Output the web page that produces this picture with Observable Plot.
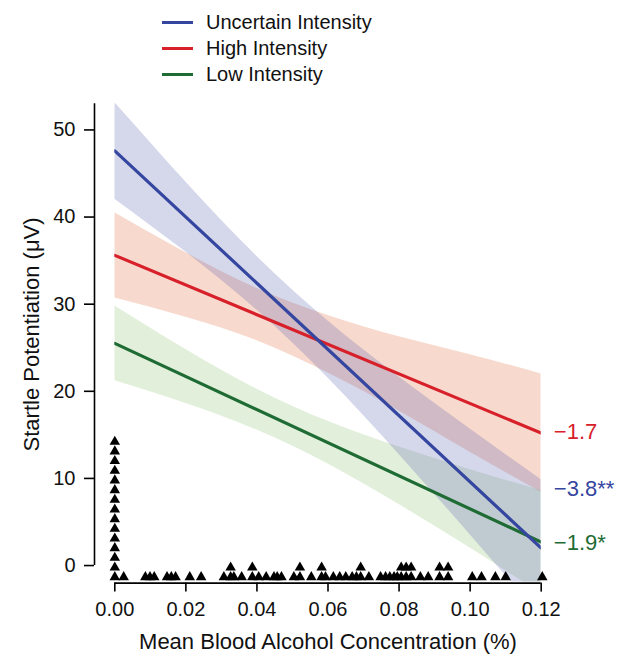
<!DOCTYPE html>
<html>
<head>
<meta charset="utf-8">
<script src="https://cdn.jsdelivr.net/npm/d3@7"></script>
<script src="https://cdn.jsdelivr.net/npm/@observablehq/plot@0.6"></script>
<style>
  body { margin: 0; background: #fff; font-family: "Liberation Sans", Arial, sans-serif; }
  #wrap { position: relative; width: 620px; height: 657px; background: #fff; }
  #legend { position: absolute; left: 162px; top: 9px; }
  .item { display: flex; align-items: center; height: 26px; font-size: 20px; color: #111; }
  .sw { width: 31px; height: 3px; margin-right: 13px; }
</style>
</head>
<body>
<div id="wrap"><div id="legend"></div></div>
<script>
// ---- data ----
const conditions = ["Uncertain Intensity", "High Intensity", "Low Intensity"];
const lineColors = ["#3446a0", "#d7202a", "#1e6b34"];
const bandColors = ["#575fb0", "#df6737", "#8bbf6f"];
const bandOpacity = 0.25;

// fitted regression lines (endpoints at BAC 0 and 0.12)
const lineX = [0, 0.12];
const uncertainLine = [47.6, 2.0];
const highLine = [35.6, 15.2];
const lowLine = [25.5, 2.7];

// confidence bands
const bandX = [0, 0.02, 0.04, 0.06, 0.08, 0.10, 0.12];
const uncertainLo = [42.05, 35.98, 29.32, 21.53, 12.76, 3.54, -5.85];
const uncertainHi = [53.15, 44.02, 35.48, 28.07, 21.64, 15.66, 9.85];
const highLo = [30.7, 28.5, 25.8, 22.1, 17.75, 13.0, 8.4];
const highHi = [40.5, 35.9, 31.8, 28.7, 26.25, 24.2, 22.0];
const lowLo = [21.2, 18.6, 15.55, 11.65, 7.0, 2.0, -3.2];
const lowHi = [29.8, 24.8, 20.25, 16.55, 13.6, 11.0, 8.6];

// slope annotations at right
const slopeLabels = ["\u22123.8**", "\u22121.7", "\u22121.9*"];
const slopeLabelY = [8.8, 15.3, 2.6];

// participants' mean BAC (rug of triangles)
const bac = [
  0, 0, 0, 0, 0, 0, 0, 0, 0, 0, 0, 0, 0, 0, 0,
  0.0025,
  0.0086, 0.0099, 0.0111,
  0.0147, 0.0159, 0.0171,
  0.0211,
  0.0243,
  0.0307, 0.0326, 0.0326, 0.0335, 0.0357,
  0.0387, 0.0387, 0.0405,
  0.0426, 0.0448, 0.0457, 0.0469,
  0.0504, 0.0521, 0.0521,
  0.0553,
  0.0582, 0.0582, 0.0593,
  0.0615, 0.0633, 0.0650, 0.0668, 0.0680, 0.0692, 0.0692,
  0.0715,
  0.0748, 0.0762, 0.0774, 0.0786, 0.0795, 0.0806, 0.0806, 0.0820, 0.0820, 0.0834, 0.0834,
  0.0860, 0.0882,
  0.0914, 0.0914, 0.0938, 0.0938,
  0.1006, 0.1032, 0.1071, 0.1100,
  0.1203
];

const xTicks = [0, 0.02, 0.04, 0.06, 0.08, 0.10, 0.12];
const yTicks = [0, 10, 20, 30, 40, 50];
const xTitle = "Mean Blood Alcohol Concentration (%)";
const yTitle = "Startle Potentiation (\u03bcV)";

// ---- build tables ----
const lineYs = [uncertainLine, highLine, lowLine];
const los = [uncertainLo, highLo, lowLo];
const his = [uncertainHi, highHi, lowHi];

const bands = conditions.map((c, i) => bandX.map((x, j) => ({cond: c, x, lo: los[i][j], hi: his[i][j]})));
const lines = conditions.map((c, i) => lineX.map((x, j) => ({cond: c, x, y: lineYs[i][j]})));
const slopes = conditions.map((c, i) => ({cond: c, x: lineX[1], y: slopeLabelY[i], text: slopeLabels[i], color: lineColors[i]}));

const counts = new Map();
const rug = bac.map(v => {
  const k = v.toFixed(4);
  const level = counts.get(k) || 0;
  counts.set(k, level + 1);
  return {bac: v, level};
});

const yMin = -1.9, yMax = 53.0;
const rugBase = -1.33, rugStep = 1.11;
const font = "\"Liberation Sans\", Arial, sans-serif";

const marks = [];
// bands: high, low, then uncertain on top (translucent)
[1, 2, 0].forEach(i => {
  marks.push(Plot.areaY(bands[i], {
    x: "x", y1: "lo", y2: "hi", fill: bandColors[i], fillOpacity: bandOpacity,
    curve: "natural", clip: true
  }));
});
[2, 1, 0].forEach(i => {
  marks.push(Plot.line(lines[i], {x: "x", y: "y", stroke: lineColors[i], strokeWidth: 3.2, clip: true}));
});
marks.push(Plot.dot(rug, {
  x: "bac", y: d => rugBase + d.level * rugStep,
  symbol: "triangle", r: 3.9, fill: "#000", stroke: null
}));
marks.push(Plot.ruleX([0], {y1: 0, y2: yMax, dx: -20.3, stroke: "#000", strokeWidth: 1.6}));
marks.push(Plot.axisY({
  ticks: yTicks, anchor: "left", dx: -20.3, tickSize: 10, tickPadding: 9,
  label: null, fontSize: 20, strokeWidth: 1.6, stroke: "#000", fill: "#111"
}));
marks.push(Plot.ruleY([yMin], {x1: xTicks[0], x2: xTicks[xTicks.length - 1], dy: 1, stroke: "#000", strokeWidth: 1.6}));
marks.push(Plot.axisX({
  ticks: xTicks, tickFormat: d3.format(".2f"), anchor: "bottom", dy: 1,
  tickSize: 9, tickPadding: 10, label: null, fontSize: 20, strokeWidth: 1.6, stroke: "#000", fill: "#111"
}));
marks.push(Plot.text([xTitle], {
  text: d => d, frameAnchor: "bottom", dy: 66.4, lineAnchor: "bottom",
  fontSize: 22, fill: "#111"
}));
marks.push(Plot.text([yTitle], {
  text: d => d, frameAnchor: "left", dx: -83, dy: -8.5, rotate: -90,
  lineAnchor: "middle", textAnchor: "middle", fontSize: 22, fill: "#111"
}));
marks.push(Plot.text(slopes, {
  x: "x", y: "y", text: "text", fill: d => d.color, textAnchor: "start",
  lineAnchor: "middle", dx: 12.6, fontSize: 22
}));

const chart = Plot.plot({
  width: 620, height: 657,
  marginTop: 103.3, marginBottom: 75.4, marginLeft: 114.3, marginRight: 79.3,
  x: {domain: [0, 0.12]},
  y: {domain: [yMin, yMax]},
  color: {type: "identity"},
  style: {fontFamily: font, fontSize: "20px", color: "#111", background: "transparent", overflow: "visible"},
  marks
});
document.getElementById("wrap").insertBefore(chart, document.getElementById("legend"));

const legend = document.getElementById("legend");
conditions.forEach((c, i) => {
  const item = document.createElement("div");
  item.className = "item";
  const sw = document.createElement("div");
  sw.className = "sw";
  sw.style.background = lineColors[i];
  const label = document.createElement("span");
  label.textContent = c;
  item.appendChild(sw);
  item.appendChild(label);
  legend.appendChild(item);
});
</script>
</body>
</html>
